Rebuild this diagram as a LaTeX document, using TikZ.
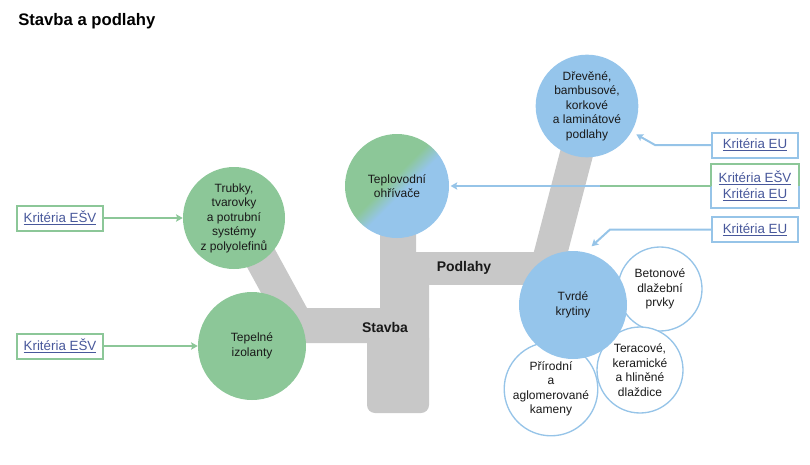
\documentclass[tikz,border=0pt]{standalone}
\usepackage{fontspec}
\setmainfont{Liberation Sans}
\usetikzlibrary{arrows.meta,calc}
\definecolor{cgreen}{RGB}{140,199,152}
\definecolor{cblue}{RGB}{149,197,235}
\definecolor{cgray}{RGB}{200,200,200}
\definecolor{clink}{RGB}{72,88,155}
\definecolor{cgreenln}{RGB}{140,199,152}
\definecolor{cblueln}{RGB}{150,196,232}
\definecolor{ctext}{RGB}{25,25,25}
\pgfdeclarehorizontalshading{gbshade}{100bp}{color(0bp)=(cgreen); color(46bp)=(cgreen); color(54bp)=(cblue); color(100bp)=(cblue)}
\begin{document}
\begin{tikzpicture}[x=0.75pt,y=-0.75pt,
  circtext/.style={circle, inner sep=0pt, align=center, text=ctext, font=\fontsize{9}{10.9}\selectfont},
  greencirc/.style={circtext, fill=cgreen},
  bluecirc/.style={circtext, fill=cblue},
  whitecirc/.style={circtext, fill=white, draw=cblueln, line width=1pt},
  linkbox/.style={draw, fill=white, line width=1.5pt, minimum width=64.5pt, minimum height=18.75pt, inner sep=1pt, align=center, text=clink, font=\fontsize{10}{12}\selectfont},
  boldlabel/.style={font=\bfseries\fontsize{10.5}{12}\selectfont, text=ctext, inner sep=0pt},
  conn/.style={line width=1.5pt, -{Stealth[length=5pt,width=5.5pt,inset=1pt]}},
  plainconn/.style={line width=1.5pt}
]
\useasboundingbox (0,0) rectangle (810,464);

% title
\node[anchor=west, font=\bfseries\fontsize{12.5}{14}\selectfont, inner sep=0pt] (title) at (18,21) {Stavba a podlahy};

% gray trunk
\fill[cgray] (380,190) -- (416,190) -- (416,285) -- (429,285) -- (429,350) -- (367,350) -- (367,343) -- (262,343) -- (262,308) -- (380,308) -- cycle;
\fill[cgray, rounded corners=6pt] (367,330) rectangle (429,413);
\fill[cgray] (410,252) rectangle (550,285);
\draw[cgray, line width=24.75pt] (239,218) -- (298,326);
\draw[cgray, line width=24.75pt] (589,106) -- (548,263);

\node[boldlabel] (stavba) at (385,327) {Stavba};
\node[boldlabel] (podlahy) at (464,268) {Podlahy};

% circles
\node[greencirc, minimum size=76.5pt] (trubky) at (234,218) {Trubky,\\tvarovky\\a potrubní\\systémy\\z polyolefinů};
\node[greencirc, minimum size=81pt] (tepelne) at (252,346) {Tepelné\\izolanty};
\node[circtext, shading=gbshade, shading angle=-45, minimum size=78pt] (teplo) at (397,186) {Teplovodní\\ohřívače};
\node[bluecirc, minimum size=77pt] (drevene) at (587,106) {Dřevěné,\\bambusové,\\korkové\\a laminátové\\podlahy};

\node[whitecirc, minimum size=63pt] (betonove) at (660,289) {Betonové\\dlažební\\prvky};
\node[whitecirc, minimum size=64.5pt] (teracove) at (640,370) {Teracové,\\keramické\\a hliněné\\dlaždice};
\node[whitecirc, minimum size=64.5pt] (prirodni) at (551,389) {Přírodní\\a\\aglomerované\\kameny};
\node[bluecirc, minimum size=81pt] (tvrde) at (573,305) {Tvrdé\\krytiny};

% criteria boxes
\node[linkbox, draw=cgreenln] (k1) at (60,218) {\underline{Kritéria EŠV}};
\node[linkbox, draw=cgreenln] (k2) at (60,346) {\underline{Kritéria EŠV}};
\node[linkbox, draw=cblueln] (b1) at (755,145) {\underline{Kritéria EU}};
\node[linkbox, draw=none, minimum height=31.5pt] (b2) at (755,186) {\underline{Kritéria EŠV}\\\underline{Kritéria EU}};
\draw[cgreenln, line width=1.5pt] (b2.west) -- (b2.north west) -- (b2.north east) -- (b2.east);
\draw[cblueln, line width=1.5pt] (b2.west) -- (b2.south west) -- (b2.south east) -- (b2.east);
\node[linkbox, draw=cblueln] (b3) at (755,229.5) {\underline{Kritéria EU}};

% connectors
\draw[conn, cgreenln] (k1.east) -- (trubky.west);
\draw[conn, cgreenln] (k2.east) -- (tepelne.west);
\draw[conn, cblueln, shorten >=4pt] (b1.west) -- ++(-56,0) -- (drevene.-30);
\draw[conn, cblueln, shorten >=1pt] (b2.west) -- (teplo.east);
\coordinate (b2mid) at (600,186);
\draw[plainconn, cgreenln] (b2.west) -- (b2mid);
\draw[conn, cblueln, shorten >=6.5pt] (b3.west) -- ++(-101,0) -- (tvrde.77);
\end{tikzpicture}
\end{document}
